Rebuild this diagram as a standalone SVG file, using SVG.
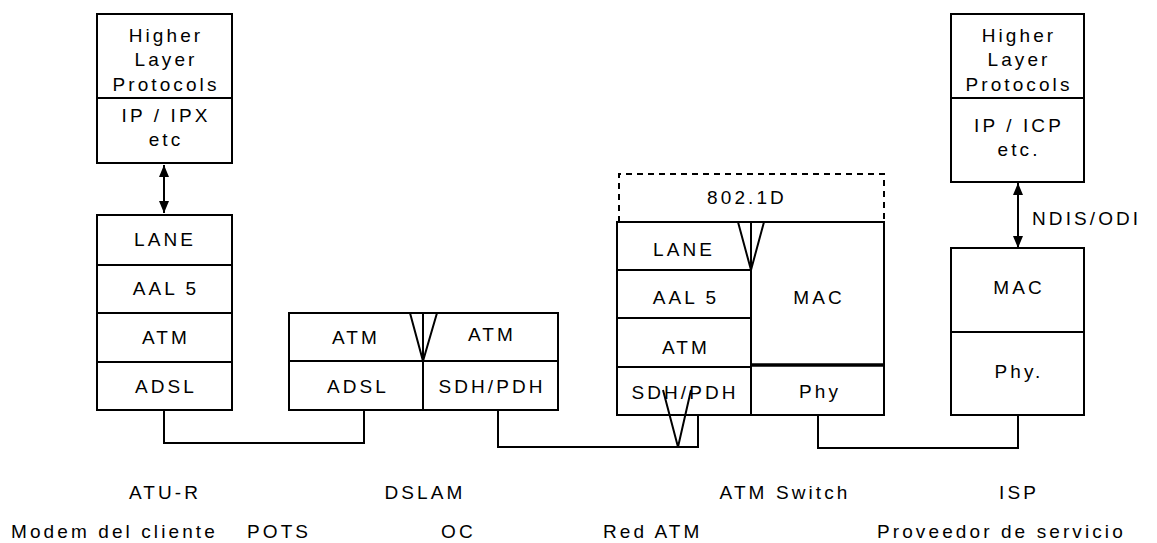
<svg xmlns="http://www.w3.org/2000/svg" width="1157" height="543" viewBox="0 0 1157 543">
<style>
.b{fill:#fff;stroke:#000;stroke-width:2}
.l{fill:none;stroke:#000;stroke-width:2}
.d{fill:none;stroke:#000;stroke-width:2;stroke-dasharray:6 5}
text{font-family:"Liberation Sans",Arial,sans-serif;font-size:19px;letter-spacing:3.1px;fill:#000}
.m{text-anchor:middle}
</style>
<defs>
<marker id="ah" viewBox="0 0 12 10" refX="12" refY="5" markerWidth="12" markerHeight="10" markerUnits="userSpaceOnUse" orient="auto-start-reverse">
<path d="M0,0 L12,5 L0,10 z" fill="#000"/>
</marker>
</defs>
<rect width="1157" height="543" fill="#fff"/>

<g id="atu-r-upper">
<rect class="b" x="97" y="14" width="135" height="149"/>
<line class="l" x1="97" y1="98" x2="232" y2="98"/>
<text class="m" x="166" y="42">Higher</text>
<text class="m" x="166" y="66">Layer</text>
<text class="m" x="166" y="91">Protocols</text>
<text class="m" x="166" y="122">IP / IPX</text>
<text class="m" x="166" y="146">etc</text>
</g>

<g id="atu-r-lower">
<rect class="b" x="97" y="215" width="135" height="195"/>
<line class="l" x1="97" y1="265" x2="232" y2="265"/>
<line class="l" x1="97" y1="313" x2="232" y2="313"/>
<line class="l" x1="97" y1="362" x2="232" y2="362"/>
<text class="m" x="165" y="246">LANE</text>
<text class="m" x="166" y="295">AAL 5</text>
<text class="m" x="166" y="344">ATM</text>
<text class="m" x="166" y="393">ADSL</text>
</g>

<g id="dslam">
<rect class="b" x="289" y="313" width="269" height="97"/>
<line class="l" x1="289" y1="361" x2="558" y2="361"/>
<line class="l" x1="423" y1="313" x2="423" y2="410"/>
<text class="m" x="356" y="344">ATM</text>
<text class="m" x="492" y="341">ATM</text>
<text class="m" x="358" y="393">ADSL</text>
<text class="m" x="492" y="393">SDH/PDH</text>
</g>

<g id="atm-switch">
<path class="d" d="M619,222 V174 H884 V222"/>
<text class="m" x="747" y="204">802.1D</text>
<rect class="b" x="617" y="222" width="267" height="193"/>
<line class="l" x1="751" y1="222" x2="751" y2="415"/>
<line class="l" x1="617" y1="270" x2="751" y2="270"/>
<line class="l" x1="617" y1="318" x2="751" y2="318"/>
<line class="l" x1="617" y1="367" x2="751" y2="367"/>
<line x1="751" y1="365" x2="884" y2="365" stroke="#000" stroke-width="3.5"/>
<text class="m" x="684" y="256">LANE</text>
<text class="m" x="686" y="304">AAL 5</text>
<text class="m" x="686" y="354">ATM</text>
<text class="m" x="685" y="399">SDH/PDH</text>
<text class="m" x="819" y="304">MAC</text>
<text class="m" x="820" y="398">Phy</text>
</g>

<g id="isp-upper">
<rect class="b" x="951" y="14" width="133" height="168"/>
<line class="l" x1="951" y1="98" x2="1084" y2="98"/>
<text class="m" x="1019" y="42">Higher</text>
<text class="m" x="1019" y="66">Layer</text>
<text class="m" x="1019" y="91">Protocols</text>
<text class="m" x="1019" y="132">IP / ICP</text>
<text class="m" x="1019" y="156">etc.</text>
</g>

<g id="isp-lower">
<rect class="b" x="951" y="248" width="133" height="167"/>
<line class="l" x1="951" y1="332" x2="1084" y2="332"/>
<text class="m" x="1019" y="294">MAC</text>
<text class="m" x="1019" y="378">Phy.</text>
</g>

<g id="connectors">
<line class="l" x1="164" y1="165" x2="164" y2="213" marker-start="url(#ah)" marker-end="url(#ah)"/>
<line class="l" x1="1018" y1="183" x2="1018" y2="248" marker-start="url(#ah)" marker-end="url(#ah)"/>
<text x="1032" y="225">NDIS/ODI</text>
<polyline class="l" points="164,410 164,443 364,443 364,410"/>
<polyline class="l" points="498,410 498,447 698,447 698,415"/>
<polyline class="l" points="818,415 818,448 1018,448 1018,415"/>
<polyline class="l" points="410,313 423,361 437,313"/>
<polyline class="l" points="738,222 751,270 764,222"/>
<polyline class="l" points="663,390 678,447 691,390"/>
</g>

<g id="labels">
<text class="m" x="165" y="499">ATU-R</text>
<text class="m" x="425" y="499">DSLAM</text>
<text class="m" x="785" y="499">ATM Switch</text>
<text class="m" x="1019" y="499">ISP</text>
<text x="11" y="538">Modem del cliente</text>
<text x="247" y="538">POTS</text>
<text x="441" y="538">OC</text>
<text x="603" y="538">Red ATM</text>
<text x="877" y="538">Proveedor de servicio</text>
</g>
</svg>
